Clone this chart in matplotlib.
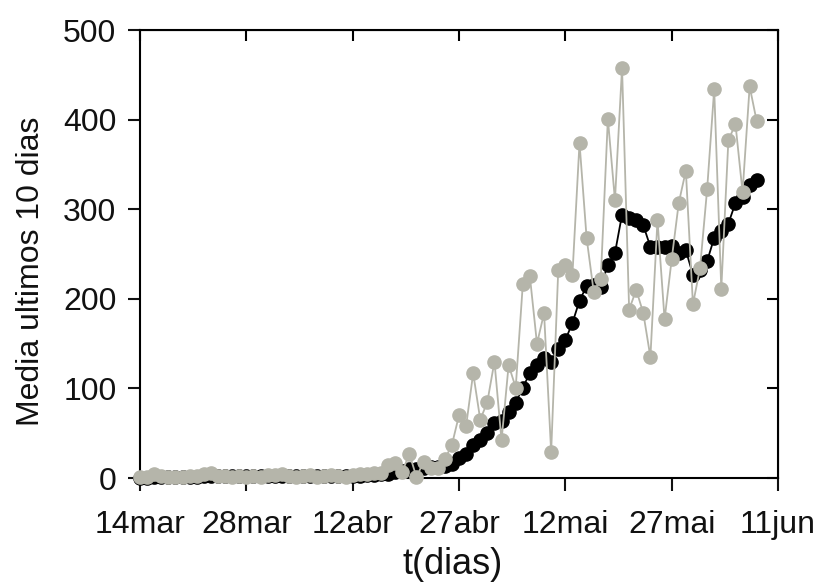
import matplotlib
matplotlib.use("Agg")
import matplotlib.pyplot as plt
import numpy as np

# daily values (grey) and 10-day mean (black), one per day from 14mar
daily = [1, 1, 5, 2, 1, 1, 1, 2, 2, 4, 6, 2, 2, 1, 2, 1, 2, 1, 3, 3,
         5, 2, 1, 2, 3, 1, 2, 3, 2, 1, 3, 4, 5, 6,
         6, 14, 17, 7, 27, 1, 18, 11, 11, 21, 37, 70, 58, 117, 65, 85,
         130, 42, 126, 101, 216, 225, 150, 184, 29, 232, 238, 227, 374, 268,
         208, 222, 401, 310, 458, 188, 210, 184, 135, 288, 177, 244, 307, 343,
         194, 234, 322, 434, 211, 377, 395, 319, 437, 398]
mean10 = [0, 0, 1, 1, 1, 1, 1, 1, 1, 2, 2, 2, 2, 2, 2, 2, 2, 2, 2, 2,
          2, 2, 2, 2, 2, 2, 2, 2, 2, 2, 2, 2, 3, 3,
          4, 5, 7, 8, 10, 10, 11, 12, 12, 13, 16, 22, 27, 37, 42, 50,
          61, 64, 74, 84, 101, 117, 126, 134, 130, 144, 154, 173, 198, 214,
          215, 213, 238, 251, 294, 290, 288, 282, 258, 258, 258, 259, 251, 254,
          227, 232, 242, 268, 276, 284, 307, 314, 327, 333]
tick_days = [0, 15, 30, 45, 60, 75, 90]
tick_labels = ["14mar", "28mar", "12abr", "27abr", "12mai", "27mai", "11jun"]
y_ticks = [0, 100, 200, 300, 400, 500]

plt.rcParams["font.family"] = ["Liberation Sans", "DejaVu Sans"]

days = np.arange(len(daily))
fig = plt.figure(figsize=(8.16, 5.84), dpi=100)
ax = fig.add_axes([140 / 816, 106 / 584, 638 / 816, 448 / 584])

ax.plot(days, mean10, color="black", lw=1.3, marker="o", ms=9.5, mec="black", mfc="black",
        clip_on=False, zorder=3)
ax.plot(days, daily, color="#b5b5aa", lw=1.3, marker="o", ms=9.5, mec="#b5b5aa", mfc="#b5b5aa",
        clip_on=False, zorder=4)

ax.set_xlim(0, 90)
ax.set_ylim(0, 500)
ax.set_xticks(tick_days, tick_labels)
ax.set_yticks(y_ticks)
ax.tick_params(direction="out", length=9, width=1.5, labelsize=23, colors="#111111")
ax.tick_params(axis="x", pad=14)
ax.tick_params(axis="y", pad=8)
for side in ax.spines.values():
    side.set_linewidth(1.5)

top = ax.secondary_xaxis("top")
top.set_xticks(tick_days)
top.tick_params(direction="in", length=8, width=1.5, labeltop=False)
right = ax.secondary_yaxis("right")
right.set_yticks(y_ticks)
right.tick_params(direction="in", length=8, width=1.5, labelright=False)

ax.set_xlabel("t(dias)", fontsize=26, color="#111111")
ax.xaxis.set_label_coords(0.49, -0.154)
ax.set_ylabel("Media ultimos 10 dias", fontsize=23, color="#111111")
ax.yaxis.set_label_coords(-0.147, 0.462)

fig.savefig("out.png", dpi=100)
